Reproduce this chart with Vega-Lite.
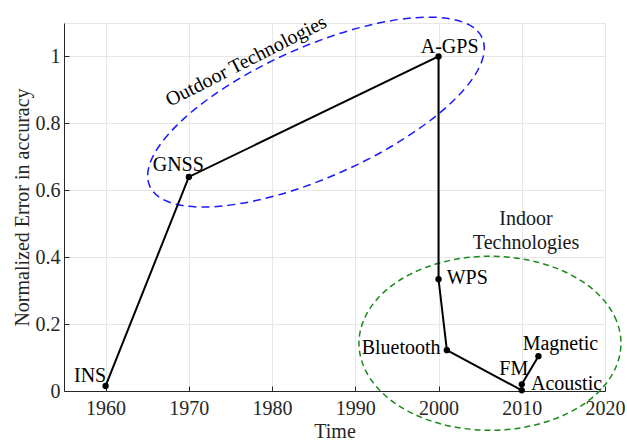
{
  "$schema": "https://vega.github.io/schema/vega-lite/v6.json",
  "width": 541,
  "height": 368,
  "autosize": {"type": "none"},
  "padding": {"left": 64, "top": 23, "right": 22, "bottom": 49},
  "background": "white",
  "config": {
    "view": {"stroke": "#e6e6e6", "strokeWidth": 1},
    "font": "Liberation Serif",
    "axis": {
      "grid": true,
      "gridColor": "#e6e6e6",
      "gridWidth": 1,
      "domainColor": "#262626",
      "domainWidth": 1,
      "tickColor": "#262626",
      "tickSize": -5,
      "labelFont": "Liberation Serif",
      "labelFontSize": 20,
      "labelColor": "#262626",
      "labelFlush": false,
      "labelOverlap": false,
      "titleFont": "Liberation Serif",
      "titleFontSize": 20,
      "titleFontWeight": "normal",
      "titleColor": "#262626"
    }
  },
  "datasets": {
    "main": [
      {"idx": 1, "tech": "INS", "year": 1960, "value": 0.015},
      {"idx": 2, "tech": "GNSS", "year": 1970, "value": 0.64},
      {"idx": 3, "tech": "A-GPS", "year": 2000, "value": 1.0},
      {"idx": 4, "tech": "WPS", "year": 2000, "value": 0.334},
      {"idx": 5, "tech": "Bluetooth", "year": 2001, "value": 0.122},
      {"idx": 6, "tech": "Acoustic", "year": 2010, "value": 0.002},
      {"idx": 7, "tech": "FM", "year": 2010, "value": 0.02},
      {"idx": 8, "tech": "Magnetic", "year": 2012, "value": 0.104}
    ],
    "labels": [
      {"text": "INS", "year": 1956.2, "value": 0.0269},
      {"text": "GNSS", "year": 1965.66, "value": 0.6581},
      {"text": "A-GPS", "year": 1997.86, "value": 1.0093},
      {"text": "WPS", "year": 2000.98, "value": 0.3213},
      {"text": "Bluetooth", "year": 1990.77, "value": 0.1098},
      {"text": "Magnetic", "year": 2010.11, "value": 0.1217},
      {"text": "FM", "year": 2007.3, "value": 0.047},
      {"text": "Acoustic", "year": 2011.11, "value": 0.002}
    ],
    "indoorText": [
      {"text": "Indoor", "year": 2010.51, "value": 0.4957},
      {"text": "Technologies", "year": 2010.51, "value": 0.4239}
    ],
    "outdoorText": [
      {"text": "Outdoor Technologies", "year": 1967.7, "value": 0.8495}
    ],
    "outdoor": [
      {"t": 0, "year": 2005.25, "value": 1.0551},
      {"t": 1, "year": 2005.39, "value": 1.0016},
      {"t": 2, "year": 2004.17, "value": 0.9366},
      {"t": 3, "year": 2001.65, "value": 0.8646},
      {"t": 4, "year": 1998.02, "value": 0.7906},
      {"t": 5, "year": 1993.52, "value": 0.7194},
      {"t": 6, "year": 1988.45, "value": 0.6561},
      {"t": 7, "year": 1983.18, "value": 0.6048},
      {"t": 8, "year": 1978.04, "value": 0.5692},
      {"t": 9, "year": 1973.4, "value": 0.5515},
      {"t": 10, "year": 1969.57, "value": 0.5531},
      {"t": 11, "year": 1966.8, "value": 0.5738},
      {"t": 12, "year": 1965.3, "value": 0.6123},
      {"t": 13, "year": 1965.16, "value": 0.6658},
      {"t": 14, "year": 1966.39, "value": 0.7308},
      {"t": 15, "year": 1968.91, "value": 0.8027},
      {"t": 16, "year": 1972.54, "value": 0.8768},
      {"t": 17, "year": 1977.04, "value": 0.948},
      {"t": 18, "year": 1982.1, "value": 1.0113},
      {"t": 19, "year": 1987.38, "value": 1.0626},
      {"t": 20, "year": 1992.51, "value": 1.0982},
      {"t": 21, "year": 1997.16, "value": 1.1159},
      {"t": 22, "year": 2000.99, "value": 1.1142},
      {"t": 23, "year": 2003.75, "value": 1.0935}
    ],
    "indoor": [
      {"t": 0, "year": 2021.92, "value": 0.1427},
      {"t": 1, "year": 2021.38, "value": 0.21},
      {"t": 2, "year": 2019.81, "value": 0.2728},
      {"t": 3, "year": 2017.31, "value": 0.3267},
      {"t": 4, "year": 2014.05, "value": 0.368},
      {"t": 5, "year": 2010.25, "value": 0.394},
      {"t": 6, "year": 2006.18, "value": 0.4029},
      {"t": 7, "year": 2002.11, "value": 0.394},
      {"t": 8, "year": 1998.31, "value": 0.368},
      {"t": 9, "year": 1995.05, "value": 0.3267},
      {"t": 10, "year": 1992.55, "value": 0.2728},
      {"t": 11, "year": 1990.98, "value": 0.21},
      {"t": 12, "year": 1990.44, "value": 0.1427},
      {"t": 13, "year": 1990.98, "value": 0.0754},
      {"t": 14, "year": 1992.55, "value": 0.0126},
      {"t": 15, "year": 1995.05, "value": -0.0413},
      {"t": 16, "year": 1998.31, "value": -0.0826},
      {"t": 17, "year": 2002.11, "value": -0.1086},
      {"t": 18, "year": 2006.18, "value": -0.1175},
      {"t": 19, "year": 2010.25, "value": -0.1086},
      {"t": 20, "year": 2014.05, "value": -0.0826},
      {"t": 21, "year": 2017.31, "value": -0.0413},
      {"t": 22, "year": 2019.81, "value": 0.0126},
      {"t": 23, "year": 2021.38, "value": 0.0754}
    ]
  },
  "encoding": {
    "x": {
      "field": "year",
      "type": "quantitative",
      "scale": {"domain": [1955, 2020], "nice": false, "zero": false},
      "axis": {
        "values": [1960, 1970, 1980, 1990, 2000, 2010, 2020],
        "format": "d",
        "labelPadding": 12,
        "title": "Time",
        "titleY": 46,
        "titleBaseline": "alphabetic"
      }
    },
    "y": {
      "field": "value",
      "type": "quantitative",
      "scale": {"domain": [0, 1.1], "nice": false, "zero": false},
      "axis": {
        "values": [0, 0.2, 0.4, 0.6, 0.8, 1],
        "format": "~g",
        "labelPadding": 9,
        "title": "Normalized Error in accuracy",
        "titleAngle": -90,
        "titleX": -36,
        "titleY": 184,
        "titleAlign": "center",
        "titleBaseline": "alphabetic"
      }
    }
  },
  "layer": [
    {
      "data": {"name": "outdoor"},
      "mark": {"type": "line", "interpolate": "cardinal-closed", "color": "#1a1aff", "strokeWidth": 1.5, "strokeDash": [8, 5]},
      "encoding": {"order": {"field": "t", "type": "quantitative"}}
    },
    {
      "data": {"name": "indoor"},
      "mark": {"type": "line", "interpolate": "cardinal-closed", "color": "#1a8a1a", "strokeWidth": 1.5, "strokeDash": [6, 4]},
      "encoding": {"order": {"field": "t", "type": "quantitative"}}
    },
    {
      "data": {"name": "main"},
      "mark": {"type": "line", "color": "black", "strokeWidth": 2},
      "encoding": {"order": {"field": "idx", "type": "quantitative"}}
    },
    {
      "data": {"name": "main"},
      "mark": {"type": "point", "filled": true, "color": "black", "size": 40, "opacity": 1}
    },
    {
      "data": {"name": "labels"},
      "mark": {"type": "text", "align": "left", "baseline": "alphabetic", "fontSize": 20, "color": "black", "font": "Liberation Serif"},
      "encoding": {"text": {"field": "text"}}
    },
    {
      "data": {"name": "indoorText"},
      "mark": {"type": "text", "align": "center", "baseline": "alphabetic", "fontSize": 20, "color": "#1a1a1a", "font": "Liberation Serif"},
      "encoding": {"text": {"field": "text"}}
    },
    {
      "data": {"name": "outdoorText"},
      "mark": {"type": "text", "align": "left", "baseline": "alphabetic", "angle": -27, "fontSize": 20, "color": "black", "font": "Liberation Serif"},
      "encoding": {"text": {"field": "text"}}
    }
  ]
}
